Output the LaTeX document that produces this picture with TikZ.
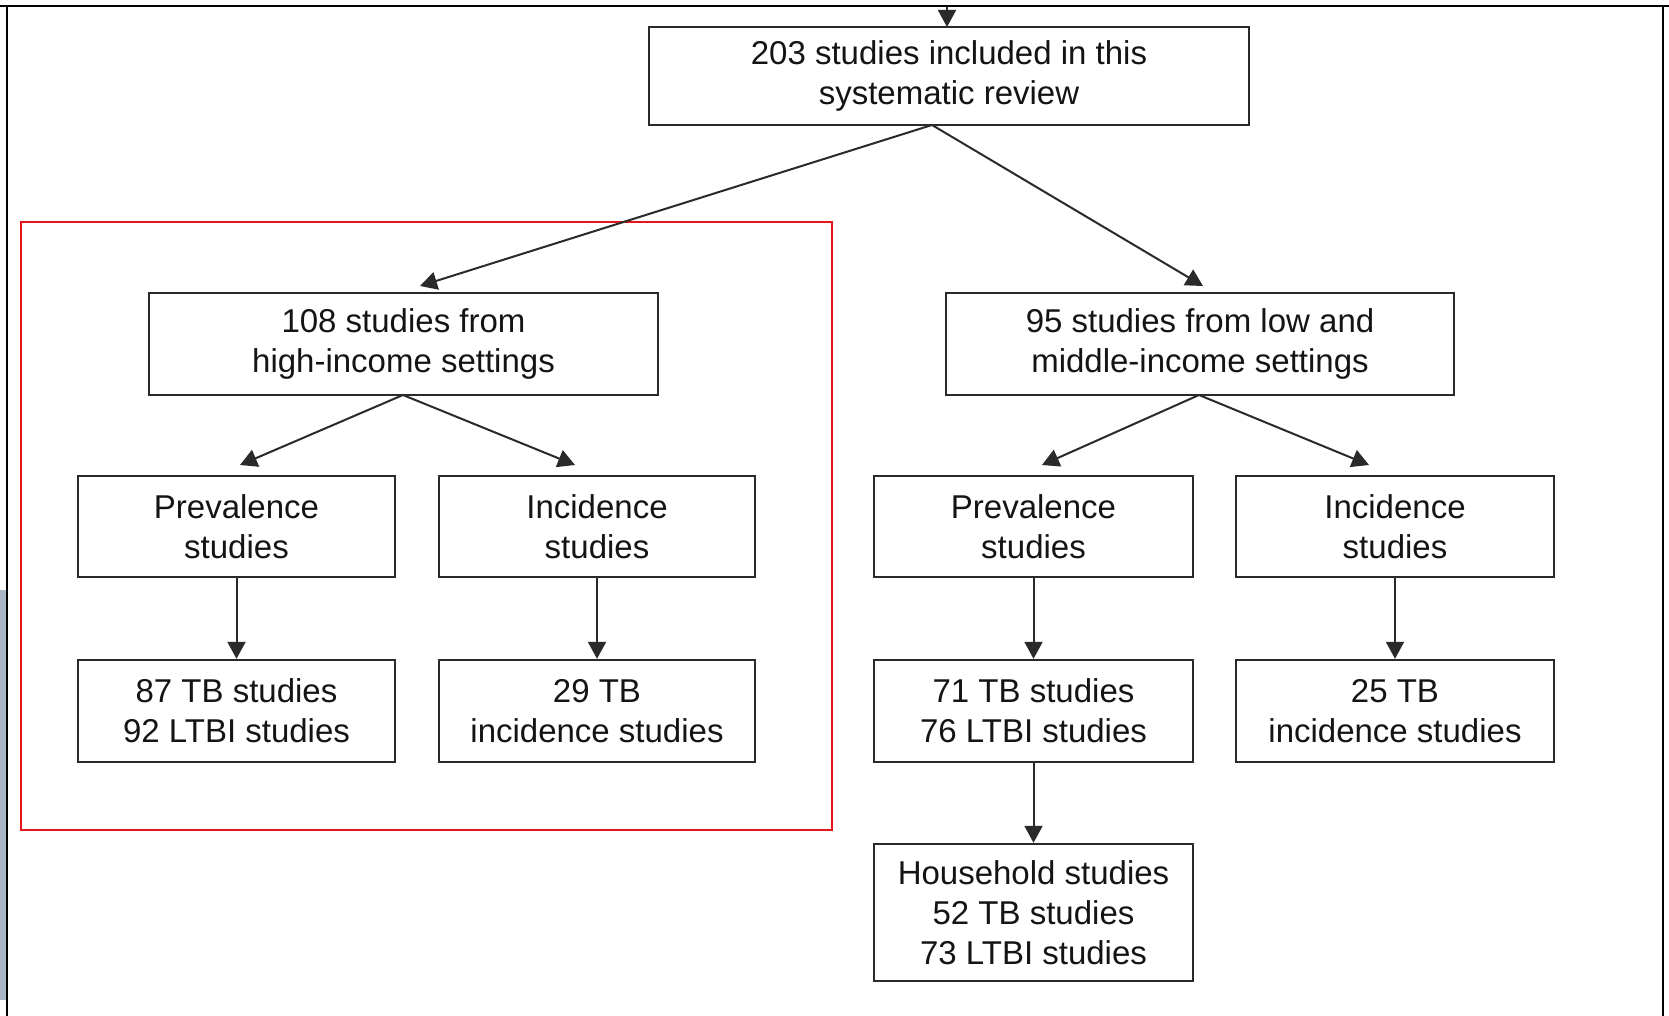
\documentclass[tikz,border=0pt]{standalone}
\usepackage{fontspec}
\setmainfont{Liberation Sans}
\usetikzlibrary{arrows.meta}
\definecolor{ln}{HTML}{2A2A2A}
\definecolor{txt}{HTML}{141414}
\definecolor{redframe}{HTML}{E8141B}
\definecolor{edgegrey}{HTML}{A9B7C6}
\begin{document}
\begin{tikzpicture}[x=1pt,y=-1pt,
  box/.style={draw=ln, line width=2.4pt, align=center, inner sep=0pt,
    font=\fontsize{33}{40}\selectfont, text=txt},
  arr/.style={draw=ln, line width=2pt, -{Triangle[length=17pt,width=18pt]}},
  frame/.style={draw=black, line width=2.8pt}]
\useasboundingbox (0,0) rectangle (1669,1016);
\fill[white] (0,0) rectangle (1669,1016);
% screenshot edge
\fill[edgegrey] (0,590) rectangle (6,1000);
\draw[frame] (0,6) -- (1669,6);
\draw[frame] (7,6) -- (7,1016);
\draw[frame] (1663,6) -- (1663,1016);
% red highlight
\draw[redframe, line width=2.4pt] (21,222) rectangle (832,830);
% boxes
\node[box, minimum width=600pt, minimum height=98pt] (top) at (949,76) {203 studies included in this\\systematic review};
\node[box, minimum width=509pt, minimum height=102pt] (hi) at (403.5,344) {108 studies from\\high-income settings};
\node[box, minimum width=508pt, minimum height=102pt] (lmi) at (1200,344) {95 studies from low and\\middle-income settings};
\node[box, minimum width=317pt, minimum height=101pt] (prev1) at (236.5,526.5) {Prevalence\\studies};
\node[box, minimum width=316pt, minimum height=101pt] (inc1) at (597,526.5) {Incidence\\studies};
\node[box, minimum width=319pt, minimum height=101pt] (prev2) at (1033.5,526.5) {Prevalence\\studies};
\node[box, minimum width=318pt, minimum height=101pt] (inc2) at (1395,526.5) {Incidence\\studies};
\node[box, minimum width=317pt, minimum height=102pt] (res1) at (236.5,711) {87 TB studies\\92 LTBI studies};
\node[box, minimum width=316pt, minimum height=102pt] (res2) at (597,711) {29 TB\\incidence studies};
\node[box, minimum width=319pt, minimum height=102pt] (res3) at (1033.5,711) {71 TB studies\\76 LTBI studies};
\node[box, minimum width=318pt, minimum height=102pt] (res4) at (1395,711) {25 TB\\incidence studies};
\node[box, minimum width=319pt, minimum height=137pt] (house) at (1033.5,912.5) {Household studies\\52 TB studies\\73 LTBI studies};
% connector coordinates
\coordinate (inTop) at (947,7);
\coordinate (topIn) at (947,27);
\coordinate (topFork) at (932,125);
\coordinate (hiTip) at (420,286);
\coordinate (lmiTip) at (1203,286);
\coordinate (hiFork) at (403,395);
\coordinate (prev1Tip) at (240,465);
\coordinate (inc1Tip) at (575,465);
\coordinate (lmiFork) at (1199,395);
\coordinate (prev2Tip) at (1042,465);
\coordinate (inc2Tip) at (1369,465);
% connectors
\draw[arr] (inTop) -- (topIn);
\draw[arr] (topFork) -- (hiTip);
\draw[arr] (topFork) -- (lmiTip);
\draw[arr] (hiFork) -- (prev1Tip);
\draw[arr] (hiFork) -- (inc1Tip);
\draw[arr] (lmiFork) -- (prev2Tip);
\draw[arr] (lmiFork) -- (inc2Tip);
\draw[arr] (prev1.south) -- (res1.north);
\draw[arr] (inc1.south) -- (res2.north);
\draw[arr] (prev2.south) -- (res3.north);
\draw[arr] (inc2.south) -- (res4.north);
\draw[arr] (res3.south) -- (house.north);
\end{tikzpicture}
\end{document}
